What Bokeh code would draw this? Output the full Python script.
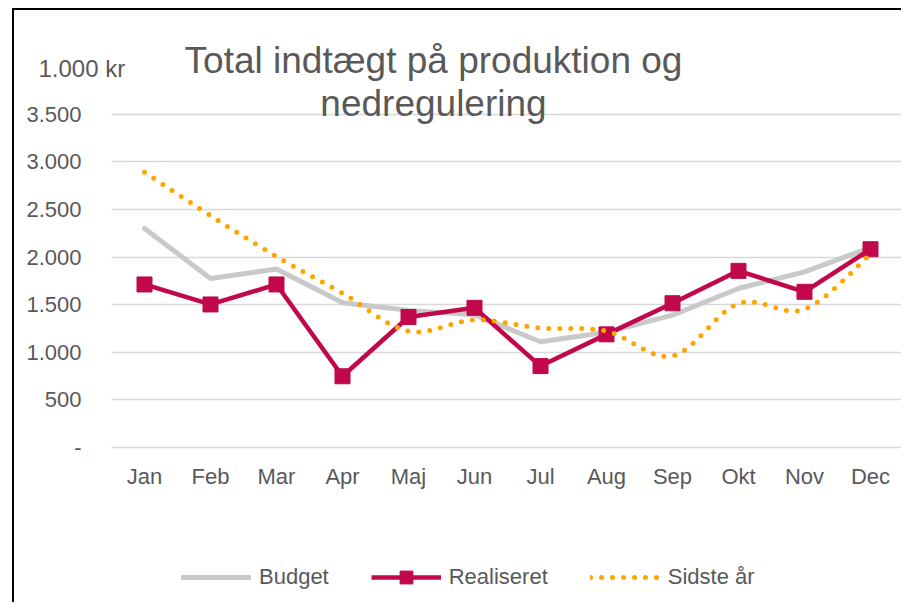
import numpy as np
from bokeh.plotting import figure
from bokeh.models import Range1d, FixedTicker, Legend, LegendItem, Label
from bokeh.embed import file_html
from bokeh.resources import INLINE

# ---------------- data ----------------
months = ["Jan", "Feb", "Mar", "Apr", "Maj", "Jun", "Jul", "Aug", "Sep", "Okt", "Nov", "Dec"]
budget = [2300, 1775, 1875, 1520, 1440, 1395, 1110, 1210, 1390, 1670, 1845, 2100]
realiseret = [1712, 1502, 1712, 748, 1370, 1467, 855, 1188, 1515, 1855, 1635, 2082]
sidste_aar = [2890, 2435, 2005, 1620, 1222, 1340, 1255, 1222, 962, 1512, 1452, 2030]
y_ticks = [0, 500, 1000, 1500, 2000, 2500, 3000, 3500]
y_tick_labels = ["-", "500", "1.000", "1.500", "2.000", "2.500", "3.000", "3.500"]
series_names = ["Budget", "Realiseret", "Sidste år"]
title_lines = ["Total indtægt på produktion og", "nedregulering"]
unit_text = "1.000 kr"

FONT = "Liberation Sans"
TXT = "#595959"
C_BUD = "#C9C9C9"
C_REAL = "#C0084B"
C_LAST = "#FFA500"

x = list(range(len(months)))


def smooth(xs, ys, n=24):
    """Excel-like smoothed line (cubic Bezier / Catmull-Rom) through the data points."""
    P = np.column_stack([xs, ys]).astype(float)
    m = len(P)
    out = []
    for i in range(m - 1):
        p0 = P[i - 1] if i > 0 else P[i]
        p1 = P[i]
        p2 = P[i + 1]
        p3 = P[i + 2] if i + 2 < m else P[i + 1]
        c1 = p1 + (p2 - p0) / 6.0
        c2 = p2 - (p3 - p1) / 6.0
        t = np.linspace(0, 1, n, endpoint=(i == m - 2))[:, None]
        seg = ((1 - t) ** 3) * p1 + 3 * ((1 - t) ** 2) * t * c1 + 3 * (1 - t) * t ** 2 * c2 + t ** 3 * p2
        out.append(seg)
    S = np.vstack(out)
    return S[:, 0], S[:, 1]


# ---------------- layout (pixels) ----------------
W, H = 889, 594
PX_X = 66.0            # px per category
PX_Y = 333.3 / 3500    # px per unit
DATA_LEFT_PX = 97      # canvas x of data area left edge
ZERO_PX = 437          # canvas y of value 0
n = len(months)
x0 = -0.5 - DATA_LEFT_PX / PX_X
x1 = x0 + W / PX_X
y1 = ZERO_PX / PX_Y
y0 = y1 - H / PX_Y

p = figure(width=W, height=H, output_backend="svg", toolbar_location=None,
           x_range=Range1d(x0, x1), y_range=Range1d(y0, y1),
           min_border_left=0, min_border_right=0, min_border_top=0, min_border_bottom=0)
p.styles = {"border-top": "2px solid #000000", "border-left": "2px solid #000000",
            "margin-left": "12px", "margin-top": "8px"}

p.outline_line_color = None
p.background_fill_color = "white"
p.border_fill_color = "white"
p.xgrid.visible = False
yg = p.ygrid[0]
use_cross = True
try:
    yg.cross_bounds = (-0.5, n - 0.5)
except Exception:
    use_cross = False
if use_cross:
    yg.ticker = FixedTicker(ticks=y_ticks)
    yg.grid_line_color = "#D9D9D9"
    yg.grid_line_width = 1.6
else:
    yg.visible = False
    p.segment(x0=[-0.5] * len(y_ticks), x1=[n - 0.5] * len(y_ticks), y0=y_ticks, y1=y_ticks,
              line_color="#D9D9D9", line_width=1.6)

p.yaxis.ticker = FixedTicker(ticks=y_ticks)
p.yaxis.major_label_overrides = dict(zip(y_ticks, y_tick_labels))
p.yaxis.fixed_location = -0.5
p.xaxis.ticker = FixedTicker(ticks=x)
p.xaxis.major_label_overrides = dict(zip(x, months))
p.xaxis.fixed_location = 0
for ax in (p.xaxis, p.yaxis):
    ax.axis_line_color = None
    ax.major_tick_line_color = None
    ax.minor_tick_line_color = None
    ax.major_label_text_font = FONT
    ax.major_label_text_font_size = "22px"
    ax.major_label_text_color = TXT
p.yaxis.major_label_standoff = 24
p.xaxis.major_label_standoff = 10

r_bud = p.line(x, budget, line_color=C_BUD, line_width=5, line_join="round", line_cap="round")
r_real = p.line(x, realiseret, line_color=C_REAL, line_width=4.5, line_join="round")
r_real_m = p.scatter(x, realiseret, marker="square", size=15, fill_color=C_REAL, line_color=C_REAL)
sx, sy = smooth(x, sidste_aar)
r_last = p.line(sx, sy, line_color=C_LAST, line_width=5, line_dash="0 11", line_cap="round")

legend = Legend(items=[LegendItem(label=series_names[0], renderers=[r_bud]),
                       LegendItem(label=series_names[1], renderers=[r_real, r_real_m]),
                       LegendItem(label=series_names[2], renderers=[r_last])],
                orientation="horizontal", location=(167, 11), margin=0,
                glyph_width=70, glyph_height=32, label_standoff=8, spacing=42, padding=4,
                border_line_color=None, background_fill_alpha=0,
                label_text_font=FONT, label_text_font_size="22px", label_text_color=TXT)
p.add_layout(legend, "center")

for txt, yy in zip(title_lines, [48, 91]):
    p.add_layout(Label(x=417, y=yy, x_units="canvas", y_units="canvas", text=txt,
                       text_align="center", text_baseline="middle", text_font=FONT,
                       text_font_size="37px", text_color=TXT))
p.add_layout(Label(x=22, y=56, x_units="canvas", y_units="canvas", text=unit_text,
                   text_align="left", text_baseline="middle", text_font=FONT,
                   text_font_size="24px", text_color=TXT))

open("out.html", "w").write(file_html(p, INLINE))
